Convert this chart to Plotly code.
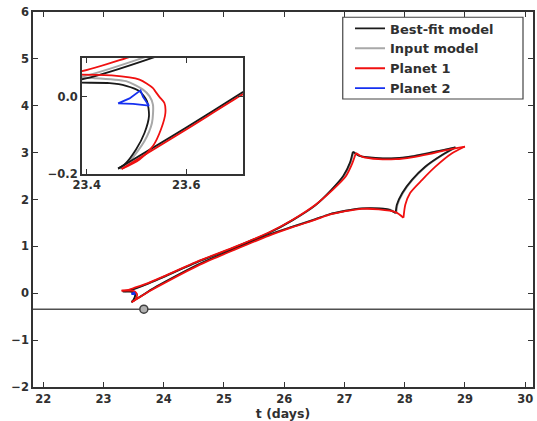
import plotly.graph_objects as go

# Caustic curves in the source plane, traced cusp to cusp; None separates arcs
best_x = [23.32, 23.387, 23.539, 23.75, 24.0, 24.6, 25.2, 25.75, 26.14, 26.52, 26.78, 26.98, 27.09, 27.14, None,
          27.14, 27.25, 27.57, 27.85, 28.12, 28.4, 28.62, 28.84, None,
          28.84, 28.62, 28.34, 28.12, 27.96, 27.87, 27.85, None,
          27.85, 27.75, 27.57, 27.29, 27.02, 26.74, 26.52, 26.14, 25.75, 25.2, 24.6, 24.0, 23.8, 23.713, 23.6, 23.463, None,
          23.463, 23.476, 23.499, 23.516, 23.525, 23.521, 23.506, 23.479, 23.446, 23.387, 23.32]
best_y = [0.04, 0.045, 0.105, 0.21, 0.35, 0.69, 0.99, 1.29, 1.56, 1.88, 2.2, 2.5, 2.78, 3.02, None,
          3.02, 2.93, 2.88, 2.88, 2.92, 2.99, 3.05, 3.11, None,
          3.11, 2.95, 2.70, 2.42, 2.14, 1.89, 1.71, None,
          1.71, 1.78, 1.81, 1.81, 1.76, 1.68, 1.58, 1.42, 1.25, 0.96, 0.63, 0.23, 0.085, 0.012, -0.08, -0.187, None,
          -0.187, -0.176, -0.137, -0.094, -0.05, -0.011, 0.015, 0.029, 0.036, 0.037, 0.04]

input_x = [23.31, 23.387, 23.52, 23.75, 24.0, 24.6, 25.2, 25.75, 26.14, 26.52, 26.78, 26.99, 27.10, 27.15, None,
           27.15, 27.26, 27.57, 27.85, 28.12, 28.4, 28.63, 28.85, None,
           28.85, 28.63, 28.35, 28.13, 27.97, 27.88, 27.86, None,
           27.86, 27.76, 27.57, 27.29, 27.02, 26.74, 26.52, 26.14, 25.75, 25.2, 24.6, 24.0, 23.8, 23.713, 23.6, 23.467, None,
           23.467, 23.489, 23.516, 23.531, 23.533, 23.526, 23.513, 23.479, 23.413, 23.31]
input_y = [0.05, 0.052, 0.105, 0.212, 0.352, 0.69, 0.99, 1.29, 1.56, 1.88, 2.2, 2.5, 2.78, 3.02, None,
           3.02, 2.93, 2.88, 2.88, 2.92, 2.99, 3.05, 3.11, None,
           3.11, 2.95, 2.70, 2.42, 2.14, 1.89, 1.70, None,
           1.70, 1.78, 1.81, 1.81, 1.76, 1.68, 1.58, 1.42, 1.25, 0.96, 0.63, 0.225, 0.08, 0.009, -0.082, -0.187, None,
           -0.187, -0.163, -0.115, -0.068, -0.02, 0.002, 0.019, 0.041, 0.049, 0.05]

planet1_x = [23.30, 23.387, 23.489, 23.6, 23.75, 24.0, 24.6, 25.2, 25.75, 26.14, 26.52, 26.80, 27.02, 27.13, 27.19, None,
             27.19, 27.3, 27.57, 27.85, 28.12, 28.4, 28.67, 29.0, None,
             29.0, 28.78, 28.51, 28.29, 28.09, 28.01, 27.98, None,
             27.98, 27.85, 27.57, 27.29, 27.02, 26.74, 26.52, 26.14, 25.75, 25.2, 24.6, 24.0, 23.8, 23.713, 23.6, 23.47, None,
             23.47, 23.506, 23.533, 23.549, 23.558, 23.556, 23.546, 23.538, 23.533, 23.506, 23.45, 23.387, 23.30]
planet1_y = [0.057, 0.066, 0.105, 0.15, 0.22, 0.36, 0.70, 1.00, 1.30, 1.57, 1.89, 2.20, 2.49, 2.77, 2.99, None,
             2.99, 2.91, 2.86, 2.86, 2.9, 2.97, 3.05, 3.13, None,
             3.13, 2.98, 2.70, 2.42, 2.14, 1.89, 1.61, None,
             1.61, 1.73, 1.79, 1.80, 1.75, 1.67, 1.57, 1.41, 1.23, 0.94, 0.61, 0.21, 0.07, 0.006, -0.085, -0.188, None,
             -0.188, -0.163, -0.128, -0.085, -0.042, -0.016, 0.0, 0.014, 0.023, 0.045, 0.056, 0.058, 0.057]

planet2_x = [23.463, 23.486, 23.508, 23.513, 23.525, 23.493, 23.463]
planet2_y = [-0.017, -0.004, 0.017, 0.0, -0.023, -0.018, -0.017]

# Source trajectory and source position marker
track_y = -0.34
source_t = [23.67]
source_y = [-0.34]

x_ticks = [22, 23, 24, 25, 26, 27, 28, 29, 30]
y_ticks = [-2, -1, 0, 1, 2, 3, 4, 5, 6]
inset_x_ticks = [23.4, 23.6]
inset_y_ticks = [-0.2, 0.0]
inset_y_text = ["\u22120.2", "0.0"]

FONT = "DejaVu Sans"
TXT = "#303030"
series = [
    ("Input model", input_x, input_y, "#a8a8a8", 2.0, 2),
    ("Best-fit model", best_x, best_y, "#1a1a1a", 1.8, 1),
    ("Planet 1", planet1_x, planet1_y, "#f01010", 1.8, 3),
    ("Planet 2", planet2_x, planet2_y, "#1530f0", 1.8, 4),
]

fig = go.Figure()
for name, xs, ys, color, w, rank in series:
    shape = "linear" if name == "Planet 2" else "spline"
    for xa, ya, show in (("x", "y", True), ("x2", "y2", False)):
        fig.add_trace(go.Scatter(
            x=xs, y=ys, mode="lines", name=name, legendgroup=name,
            showlegend=show, legendrank=rank, xaxis=xa, yaxis=ya,
            connectgaps=False,
            line=dict(color=color, width=w, shape=shape, smoothing=0.7),
        ))

fig.add_hline(y=track_y, line=dict(color="#505050", width=1.5), layer="below")
fig.add_trace(go.Scatter(
    x=source_t, y=source_y, mode="markers", showlegend=False,
    marker=dict(symbol="circle", size=8, color="#b0b0b0",
                line=dict(color="#404040", width=1.5)),
))

tick_font = dict(family=FONT, size=11.5, color=TXT, weight="bold")
axis_common = dict(
    showline=True, linecolor="#333", linewidth=1.5, mirror="ticks",
    ticks="inside", ticklen=5, tickwidth=1, tickcolor="#333",
    showgrid=False, zeroline=False, tickfont=tick_font,
)

# Legend frame (paper coordinates of the plotting area)
fig.add_shape(type="rect", xref="paper", yref="paper",
              x0=0.6195, x1=0.980, y0=0.768, y1=0.986,
              line=dict(color="#444", width=1.2), fillcolor="white", layer="above")

fig.update_layout(
    width=537, height=421,
    margin=dict(l=33, r=2, t=12, b=31, pad=0),
    paper_bgcolor="white", plot_bgcolor="white",
    font=dict(family=FONT, size=12, color=TXT),
    xaxis=dict(range=[21.83, 30.13], tickvals=x_ticks, domain=[0, 1],
               title=dict(text="t (days)", standoff=5,
                          font=dict(family=FONT, size=12.5, color=TXT, weight="bold")),
               **axis_common),
    yaxis=dict(range=[-2, 6], tickvals=y_ticks, domain=[0, 1], **axis_common),
    xaxis2=dict(range=[23.39, 23.714], tickvals=inset_x_ticks,
                domain=[0.0976, 0.420], anchor="y2", **axis_common),
    yaxis2=dict(range=[-0.2, 0.102], tickvals=inset_y_ticks, ticktext=inset_y_text,
                domain=[0.569, 0.878], anchor="x2", **axis_common),
    legend=dict(x=0.634, y=0.996, xanchor="left", yanchor="top",
                bgcolor="rgba(0,0,0,0)", borderwidth=0,
                font=dict(family=FONT, size=13, color=TXT, weight="bold"),
                itemwidth=30, traceorder="normal"),
    showlegend=True,
)

fig.write_html("out.html")
